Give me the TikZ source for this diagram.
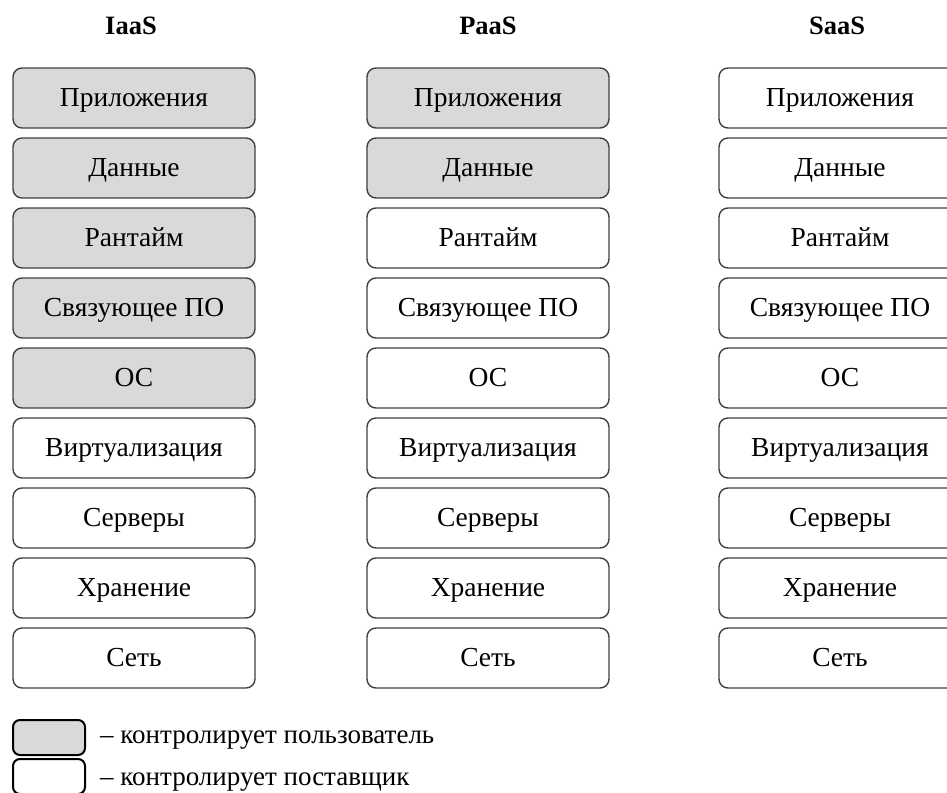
\documentclass[tikz,border=0pt]{standalone}
\usepackage{fontspec}
\setmainfont{Liberation Serif}
\begin{document}
\begin{tikzpicture}[x=1pt,y=-1pt,
  layer/.style={draw=black!75, line width=1.4pt, rounded corners=9pt,
    minimum width=242pt, minimum height=60pt, inner sep=0pt,
    text height=17.5pt, text depth=0pt,
    font=\fontsize{27.5}{32}\selectfont},
  userbox/.style={layer, fill=black!15},
  title/.style={font=\fontsize{26.5}{30}\selectfont\bfseries},
  keybox/.style={draw=black, line width=2pt, rounded corners=7pt,
    minimum width=72pt, minimum height=35pt, inner sep=0pt},
  keytext/.style={anchor=base west, inner sep=0pt, font=\fontsize{27}{32}\selectfont}]
\useasboundingbox (0,0) rectangle (947,792);
\clip (0,0) rectangle (947,792);

% column headings
\node[title] (tI) at (131,26) {IaaS};
\node[title] (tP) at (488,26) {PaaS};
\node[title] (tS) at (837,26) {SaaS};

% layer stacks: the first \nuser layers of each model are user-managed
\foreach \col/\cx/\nuser in {i/134/5, p/488/2, s/840/0} {
  \foreach \lbl [count=\k] in {Приложения, Данные, Рантайм, Связующее ПО, ОС,
      Виртуализация, Серверы, Хранение, Сеть} {
    \ifnum\k>\nuser \def\sty{layer}\else\def\sty{userbox}\fi
    \node[\sty] (\col\k) at (\cx, 28+70*\k) {\lbl};
  }
}

% legend
\node[keybox, fill=black!15] (kU) at (49,737.5) {};
\node[keybox, fill=white] (kV) at (49,776.5) {};
\node[keytext] (lU) at (100,743) {– контролирует пользователь};
\node[keytext] (lV) at (100,785) {– контролирует поставщик};
\end{tikzpicture}
\end{document}
